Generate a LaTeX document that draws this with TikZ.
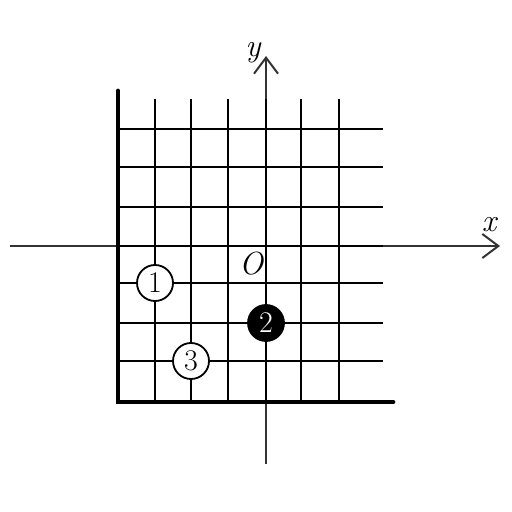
\documentclass[tikz,border=0pt]{standalone}
\usetikzlibrary{arrows.meta}
\begin{document}
\begin{tikzpicture}[x=0.5pt,y=-0.5pt,
  gridline/.style={line width=1.4pt,black},
  frameline/.style={line width=2.4pt,black,line cap=round},
  axisline/.style={line width=1pt,black!80,-{Straight Barb[length=8pt,width=12pt,line width=1pt]}},
  stone/.style={circle,draw,line width=0.9pt,fill=white,minimum size=18pt,inner sep=0pt,font=\fontsize{15}{16}\selectfont},
  blackstone/.style={stone,fill=black,text=white},
  lab/.style={font=\fontsize{16}{18}\selectfont\itshape}]
\useasboundingbox (0,0) rectangle (512,512);
% grid
\foreach \xx in {155,191,228,301,339} \draw[gridline] (\xx,99) -- (\xx,402);
\foreach \yy in {129,167,207,283,323,361} \draw[gridline] (118,\yy) -- (383,\yy);
% axes
\coordinate (xs) at (10,246);
\coordinate (xe) at (500,246);
\coordinate (ys) at (266,464);
\coordinate (ye) at (266,56);
\draw[axisline] (xs) -- (xe);
\draw[axisline] (ys) -- (ye);
\draw[gridline] (118,246) -- (383,246);
\draw[gridline] (266,99) -- (266,402);
\draw[frameline] (118,91) -- (118,402) -- (393,402);
\node[lab] (xl) at (489,225) {x};
\node[lab] (yl) at (253,53) {y};
\node[lab] (ol) at (251,264) {O};
% stones
\node[stone] (s1) at (155,283) {1};
\node[blackstone] (s2) at (266,323) {2};
\node[stone] (s3) at (191,361) {3};
\end{tikzpicture}
\end{document}
